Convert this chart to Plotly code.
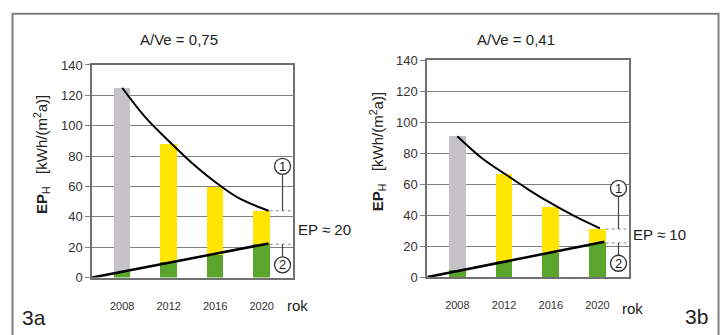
import plotly.graph_objects as go

# ---------------- data ----------------
years = [2008, 2012, 2016, 2020]
year_labels = ["2008", "2012", "2016", "2020"]
y_ticks = [0, 20, 40, 60, 80, 100, 120, 140]

total_a = [125, 88, 60, 44]
green_a = [4, 10, 15, 22]
total_b = [91, 66, 45, 31]
green_b = [4, 10, 15, 22]

curve_a_x = [2008, 2010, 2012.2, 2014, 2016, 2018, 2020.6]
curve_a_y = [125, 105.5, 88.5, 75.5, 63, 52.5, 44]
curve_b_x = [2008, 2010, 2012.5, 2014, 2015.6, 2018, 2020.2]
curve_b_y = [91, 77.5, 64.5, 57, 49.5, 39.5, 31.5]

base_a_x = [2005.4, 2020.6]
base_a_y = [0, 22.5]
base_b_x = [2005.45, 2020.6]
base_b_y = [0, 22.8]

titles = ["A/Ve = 0,75", "A/Ve = 0,41"]
ep_texts = ["EP ≈ 20", "EP ≈ 10"]
panel_labels = ["3a", "3b"]

# ---------------- style ----------------
W, H = 723, 335
GRAY_BAR = "#c4c2c7"
YELLOW = "#ffe500"
GREEN = "#5aa62c"
GRID = "#808080"
FONT = "Liberation Sans, Arial, sans-serif"
XR = [2005.4, 2022.7]
BAR_W = 1.42


def px_x(x):
    return x / W


def px_y(y):
    return 1 - y / H


fig = go.Figure()

panels = [
    dict(total=total_a, green=green_a, cx=curve_a_x, cy=curve_a_y, bx=base_a_x, by=base_a_y,
         xa="x", ya="y"),
    dict(total=total_b, green=green_b, cx=curve_b_x, cy=curve_b_y, bx=base_b_x, by=base_b_y,
         xa="x2", ya="y2"),
]

for p in panels:
    top_vals = [t - g for t, g in zip(p["total"], p["green"])]
    top_cols = [GRAY_BAR] + [YELLOW] * (len(years) - 1)
    fig.add_trace(go.Bar(x=years, y=p["green"], width=BAR_W, marker=dict(color=GREEN, line=dict(width=0)),
                         xaxis=p["xa"], yaxis=p["ya"], showlegend=False))
    fig.add_trace(go.Bar(x=years, y=top_vals, width=BAR_W, marker=dict(color=top_cols, line=dict(width=0)),
                         xaxis=p["xa"], yaxis=p["ya"], showlegend=False))
    fig.add_trace(go.Scatter(x=p["cx"], y=p["cy"], mode="lines", line=dict(color="black", width=2, shape="spline"),
                             xaxis=p["xa"], yaxis=p["ya"], showlegend=False))
    fig.add_trace(go.Scatter(x=p["bx"], y=p["by"], mode="lines", line=dict(color="black", width=2.5),
                             xaxis=p["xa"], yaxis=p["ya"], showlegend=False))

axis_common_y = dict(range=[0, 140], tickvals=y_ticks, showgrid=True, gridcolor=GRID, gridwidth=1,
                     showline=True, mirror=True, linecolor="#707070", linewidth=1.5,
                     ticks="outside", ticklen=5, tickcolor=GRID, zeroline=False,
                     tickfont=dict(family=FONT, size=13, color="#333"))
axis_common_x = dict(range=XR, tickvals=years, ticktext=year_labels, showgrid=False,
                     showline=True, mirror=True, linecolor="#707070", linewidth=1.5,
                     ticks="", zeroline=False, ticklabelstandoff=17,
                     tickfont=dict(family=FONT, size=11, color="#333"))

fig.update_layout(
    width=W, height=H, margin=dict(l=0, r=0, t=0, b=0),
    paper_bgcolor="white", plot_bgcolor="white", barmode="stack", bargap=0,
    xaxis=dict(domain=[92 / W, 293 / W], anchor="y", **axis_common_x),
    yaxis=dict(domain=[px_y(283.3), px_y(60.7)], anchor="x", **axis_common_y),
    xaxis2=dict(domain=[427 / W, 629 / W], anchor="y2", **axis_common_x),
    yaxis2=dict(domain=[px_y(282.7), px_y(56)], anchor="x2", **axis_common_y),
    font=dict(family=FONT, color="#222"),
)

shapes = []
annotations = []

# outer frame
shapes.append(dict(type="rect", xref="paper", yref="paper", x0=px_x(12.5), x1=px_x(718.5),
                   y0=-0.1, y1=px_y(7), line=dict(color="#808080", width=2)))

dim_info = [
    dict(xa="x", ya="y", level1=total_a[-1], level2=green_a[-1], c1=73.3, c2=8.4,
         title_x=179, ytitle_x=41, ytitle_y=155, ep_x=296, ep_y=233, rok_x=297, rok_y=313,
         lab_x=34, lab_y=325),
    dict(xa="x2", ya="y2", level1=total_b[-1], level2=green_b[-1], c1=57.3, c2=8.9,
         title_x=516, ytitle_x=377, ytitle_y=152, ep_x=631, ep_y=238, rok_x=632, rok_y=316,
         lab_x=696, lab_y=324),
]


def ann(x, y, text, size, **kw):
    a = dict(x=px_x(x), y=px_y(y), xref="paper", yref="paper", text=text, showarrow=False,
             xanchor="center", yanchor="middle", font=dict(family=FONT, size=size, color="#222"))
    a.update(kw)
    return a


VX = 2021.8
R = 8
for i, d in enumerate(dim_info):
    for lvl in (d["level1"], d["level2"]):
        shapes.append(dict(type="line", xref=d["xa"], yref=d["ya"], x0=2020.7, x1=XR[1], y0=lvl, y1=lvl,
                           line=dict(color="#8a8a8a", width=1, dash="dot")))
    shapes.append(dict(type="line", xref=d["xa"], yref=d["ya"], x0=VX, x1=VX, y0=d["level1"], y1=d["c1"],
                       line=dict(color="#444", width=1.2)))
    shapes.append(dict(type="line", xref=d["xa"], yref=d["ya"], x0=VX, x1=VX, y0=d["level2"], y1=d["c2"],
                       line=dict(color="#444", width=1.2)))
    for cy, txt in ((d["c1"], "1"), (d["c2"], "2")):
        shapes.append(dict(type="circle", xref=d["xa"], yref=d["ya"], xsizemode="pixel", ysizemode="pixel",
                           xanchor=VX, yanchor=cy, x0=-R, x1=R, y0=-R, y1=R,
                           line=dict(color="#333", width=1.3), fillcolor="white", layer="above"))
        annotations.append(dict(x=VX, y=cy, xref=d["xa"], yref=d["ya"], text=txt, showarrow=False,
                                xanchor="center", yanchor="middle",
                                font=dict(family=FONT, size=13, color="#222")))
    annotations.append(ann(d["title_x"], 34, titles[i], 15))
    annotations.append(ann(d["ytitle_x"], d["ytitle_y"],
                           "<b>EP</b><sub>H</sub>\u00a0\u00a0\u00a0[kWh/(m<sup>2</sup>a)]", 15, textangle=-90))
    annotations.append(ann(d["ep_x"], d["ep_y"], ep_texts[i], 15, xanchor="left"))
    annotations.append(ann(d["rok_x"], d["rok_y"], "rok", 15))
    annotations.append(ann(d["lab_x"], d["lab_y"], panel_labels[i], 21))

fig.update_layout(shapes=shapes, annotations=annotations)
fig.write_html("out.html", config={"displayModeBar": False},
               post_script="document.body.style.margin='0px';")
